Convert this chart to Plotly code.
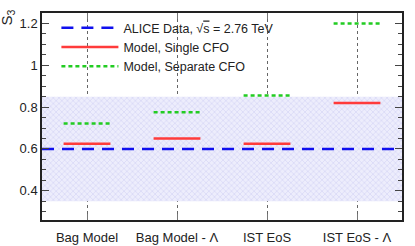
import plotly.graph_objects as go

categories = ["Bag Model", "Bag Model - Λ", "IST EoS", "IST EoS - Λ"]
single_cfo = [0.625, 0.65, 0.625, 0.82]
separate_cfo = [0.722, 0.775, 0.855, 1.2]
alice_value = 0.6
alice_err = 0.25

xs = list(range(len(categories)))
half = 0.26

fig = go.Figure()

# ALICE band
x0, x1 = -0.5, len(categories) - 0.5
fig.add_trace(go.Scatter(
    x=[x0, x1, x1, x0, x0],
    y=[alice_value - alice_err, alice_value - alice_err,
       alice_value + alice_err, alice_value + alice_err, alice_value - alice_err],
    fill="toself", mode="none", showlegend=False, hoverinfo="skip",
    fillcolor="rgba(0,0,0,0)",
    fillpattern=dict(shape="x", size=4, solidity=0.35,
                     fgcolor="#c4c4f2", bgcolor="#ededfc"),
))

# ALICE line
fig.add_trace(go.Scatter(
    x=[x0, x1], y=[alice_value, alice_value], mode="lines",
    line=dict(color="#1010ee", width=2.5, dash="12px,8px"),
    name="ALICE Data, √<span style='text-decoration:overline'>s</span> = 2.76 TeV",
))

def seg(vals):
    X, Y = [], []
    for i, v in zip(xs, vals):
        X += [i - half, i + half, None]
        Y += [v, v, None]
    return X, Y

X, Y = seg(single_cfo)
fig.add_trace(go.Scatter(x=X, y=Y, mode="lines",
                         line=dict(color="#ff3b3b", width=2.5),
                         name="Model, Single CFO"))
X, Y = seg(separate_cfo)
fig.add_trace(go.Scatter(x=X, y=Y, mode="lines",
                         line=dict(color="#22cc22", width=2.5, dash="4px,3px"),
                         name="Model, Separate CFO"))

fig.update_layout(
    width=415, height=246,
    margin=dict(l=42, r=13, t=13, b=26),
    paper_bgcolor="white", plot_bgcolor="white",
    font=dict(family="Liberation Sans, Arial, sans-serif", size=13, color="#222"),
    legend=dict(x=0.04, y=1.0, xanchor="left", yanchor="top",
                bgcolor="rgba(0,0,0,0)", font=dict(size=12.5),
                tracegroupgap=0, itemwidth=57),
    annotations=[dict(text="S<sub>3</sub>", xref="paper", yref="paper",
                      x=0, y=1, xanchor="right", yanchor="top",
                      xshift=-24, yshift=5, textangle=-90, showarrow=False,
                      font=dict(size=15, color="#222"))],
)
fig.update_xaxes(
    range=[x0, x1], tickvals=xs, ticktext=categories,
    showgrid=True, gridcolor="#666", griddash="dot", gridwidth=1,
    showline=True, linecolor="#222", linewidth=1.5, mirror="allticks",
    ticks="inside", ticklen=6, tickcolor="#777", zeroline=False,
    automargin=False, ticklabelstandoff=5,
)
fig.update_yaxes(
    range=[0.26, 1.25], dtick=0.2, tick0=0,
    showgrid=False, zeroline=False, automargin=False,
    showline=True, linecolor="#222", linewidth=1.5, mirror="allticks",
    ticks="inside", ticklen=7, tickcolor="#444",
    minor=dict(dtick=0.05, ticks="inside", ticklen=4, tickcolor="#444"),
)

fig.write_html("out.html", config={"displayModeBar": False},
               post_script="document.body.style.margin='0';document.body.style.overflow='hidden';")
